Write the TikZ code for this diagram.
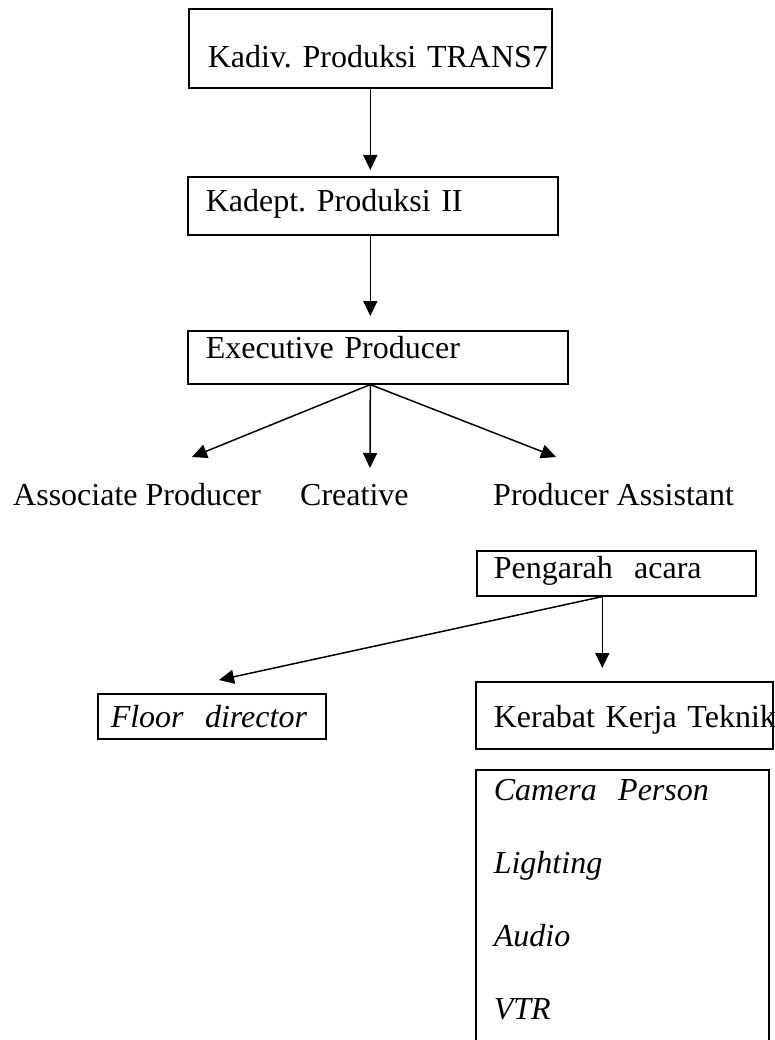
\documentclass[tikz,border=0pt]{standalone}
\usepackage{fontspec}
\setmainfont{Liberation Serif}
\usetikzlibrary{arrows.meta}
\frenchspacing
\begin{document}
\begin{tikzpicture}[x=1pt,y=-1pt,
  every node/.style={font=\fontsize{32}{38}\selectfont\frenchspacing, inner sep=0pt},
  box/.style={draw, line width=1.6pt, anchor=north west, align=left},
  itbox/.style={box, font=\fontsize{32}{38}\selectfont\frenchspacing\itshape},
  lbl/.style={anchor=base west},
  conn/.style={line width=1.5pt, -{Triangle[length=15pt,width=14pt]}}]
\clip (0,0) rectangle (775,1040);
\fill[white] (0,0) rectangle (775,1040);
% boxes
\node[box, inner xsep=19pt, text width=325pt, text height=59pt, text depth=20pt] (kadiv) at (188,8) {\mbox{Kadiv. Produksi TRANS7}};
\node[box, inner xsep=18pt, text width=334pt, text height=35pt, text depth=23pt] (kadept) at (187,176) {Kadept. Produksi II};
\node[box, inner xsep=18pt, text width=344pt, text height=28pt, text depth=25pt] (exec) at (187,330) {Executive Producer};
% labels
\node[lbl] (assoc) at (13,505) {Associate Producer};
\node[lbl] (creative) at (300,505) {Creative};
\node[lbl] (passist) at (493,505) {Producer Assistant};
% lower part
\node[box, inner xsep=17pt, text width=245pt, text height=28pt, text depth=17pt] (pengarah) at (476,550) {Pengarah~~acara};
\node[itbox, inner xsep=13pt, text width=202pt, text height=34pt, text depth=11pt] (floor) at (97,693) {Floor~~director};
\node[box, inner xsep=18pt, text width=261pt, text height=46pt, text depth=21pt] (kerabat) at (475,681) {\mbox{Kerabat Kerja Teknik}};
\node[itbox, inner xsep=18pt, text width=257pt, text height=31pt, text depth=260pt] (crew) at (475,769) {Camera~~Person\\[35pt]Lighting\\[35pt]Audio\\[35pt]VTR};
% connectors
\draw[conn, shorten >=6pt] (kadiv.south) -- (kadept.north -| kadiv.south);
\draw[conn, shorten >=14pt] (kadept.south -| kadiv.south) -- (exec.north -| kadiv.south);
\coordinate (fork) at (exec.south -| kadiv.south);
\coordinate (tipA) at (192,457);
\coordinate (tipC) at (370,468);
\coordinate (tipP) at (556,457);
\draw[conn] (fork) -- (tipA);
\draw[conn] (fork) -- (tipC);
\draw[conn] (fork) -- (tipP);
\coordinate (pfork) at ([xshift=-14pt]pengarah.south);
\coordinate (tipF) at (219,680);
\draw[conn] (pfork) -- (tipF);
\draw[conn, shorten >=13pt] (pfork) -- (pfork |- kerabat.north);
\end{tikzpicture}
\end{document}
